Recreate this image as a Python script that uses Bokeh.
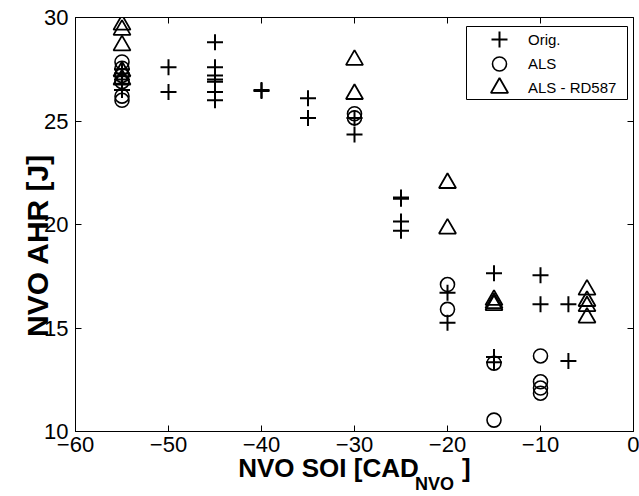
from bokeh.plotting import figure
from bokeh.models import (LinearAxis, Legend, LegendItem, FixedTicker,
                          Range1d, BoxAnnotation)
from bokeh.embed import file_html
from bokeh.resources import INLINE

# ---- data ----
orig_x = [-55, -55, -55, -55, -55,
          -50, -50,
          -45, -45, -45, -45, -45, -45, -45,
          -40, -40,
          -35, -35,
          -30, -30,
          -25, -25, -25, -25,
          -20, -20,
          -15, -15, -15,
          -10, -10,
          -7, -7]
orig_y = [27.5, 27.3, 27.0, 26.8, 26.5,
          27.6, 26.4,
          28.8, 27.6, 27.2, 27.0, 26.9, 26.4, 26.0,
          26.5, 26.45,
          26.1, 25.15,
          25.15, 24.35,
          21.3, 21.25, 20.15, 19.7,
          16.7, 15.25,
          17.65, 13.6, 13.35,
          17.55, 16.15,
          16.15, 13.4]

als_x = [-55, -55, -55, -55, -55, -55,
         -30, -30,
         -20, -20,
         -15, -15,
         -10, -10, -10, -10]
als_y = [27.85, 27.55, 27.2, 26.9, 26.2, 26.0,
         25.35, 25.15,
         17.1, 15.9,
         13.3, 10.55,
         13.65, 12.4, 12.1, 11.85]

rd_x = [-55, -55, -55, -55, -55,
        -30, -30,
        -20, -20,
        -15, -15, -15,
        -5, -5, -5, -5]
rd_y = [29.65, 29.4, 28.65, 27.4, 27.0,
        27.95, 26.3,
        22.0, 19.8,
        16.35, 16.2, 16.1,
        16.85, 16.3, 16.05, 15.5]

series_labels = ["Orig.", "ALS", "ALS - RD587"]
x_ticks = [-60, -50, -40, -30, -20, -10, 0]
y_ticks = [10, 15, 20, 25, 30]
x_title = "NVO SOI [CAD"
x_title_sub = "NVO"
x_title_end = "]"
y_title = "NVO AHR [J]"

FONT = "Liberation Sans"
NB = "\u00a0"

# layout constants (pixels)
W, H = 639, 496
FL, FT, FW, FH = 75, 17, 558, 414
XMIN, XMAX, YMIN, YMAX = -60, 0, 10, 30


def dx(px):
    return XMIN + (px - FL) * (XMAX - XMIN) / FW


def dy(py):
    return YMAX - (py - FT) * (YMAX - YMIN) / FH


p = figure(width=W, height=H,
           x_range=Range1d(XMIN, XMAX), y_range=Range1d(YMIN, YMAX),
           output_backend="svg", toolbar_location=None,
           min_border_left=FL, min_border_right=W - FL - FW,
           min_border_top=FT, min_border_bottom=H - FT - FH)
p.xgrid.visible = False
p.ygrid.visible = False
p.outline_line_color = "black"
p.outline_line_width = 1
p.background_fill_color = "white"
p.border_fill_color = "white"

for ax in (p.xaxis[0], p.yaxis[0]):
    ax.major_tick_in = 6
    ax.major_tick_out = 0
    ax.minor_tick_in = 0
    ax.minor_tick_out = 0
    ax.axis_line_color = "black"
    ax.major_tick_line_color = "black"
    ax.major_label_text_font = FONT
    ax.major_label_text_font_size = "22px"
    ax.major_label_text_color = "black"
    ax.axis_label_text_font = FONT
    ax.axis_label_text_font_style = "bold"
    ax.axis_label_text_color = "black"
p.xaxis.ticker = FixedTicker(ticks=x_ticks)
p.yaxis.ticker = FixedTicker(ticks=y_ticks)
p.xaxis.major_label_standoff = 5
p.yaxis.major_label_standoff = 7

p.xaxis.axis_label = x_title + NB * 6 + x_title_end
p.xaxis.axis_label_text_font_size = "26px"
p.xaxis.axis_label_standoff = -2

p.yaxis.axis_label = y_title + NB * 5
p.yaxis.axis_label_text_font_size = "30px"
p.yaxis.axis_label_standoff = -13

# subscript of the x title
sub = LinearAxis(ticker=FixedTicker(ticks=[]))
sub.axis_line_color = None
sub.major_tick_in = 0
sub.major_tick_out = 0
sub.minor_tick_in = 0
sub.minor_tick_out = 0
sub.major_label_text_font_size = "0px"
sub.major_label_text_color = None
sub.major_label_standoff = 0
sub.axis_label = NB * 32 + x_title_sub
sub.axis_label_text_font = FONT
sub.axis_label_text_font_style = "bold"
sub.axis_label_text_font_size = "18px"
sub.axis_label_text_color = "black"
sub.axis_label_standoff = -12
p.add_layout(sub, "below")

top = LinearAxis(ticker=FixedTicker(ticks=x_ticks))
right = LinearAxis(ticker=FixedTicker(ticks=y_ticks))
for ax in (top, right):
    ax.major_tick_in = 6
    ax.major_tick_out = 0
    ax.minor_tick_in = 0
    ax.minor_tick_out = 0
    ax.axis_line_color = None
    ax.major_tick_line_color = "black"
    ax.major_label_text_font_size = "0px"
    ax.major_label_text_color = None
    ax.major_label_standoff = 0
p.add_layout(top, "above")
p.add_layout(right, "right")

r_orig = p.scatter(orig_x, orig_y, marker="cross", size=16,
                   line_color="black", line_width=2)
r_als = p.scatter(als_x, als_y, marker="circle", size=14,
                  line_color="black", line_width=1.6, fill_color=None)
r_rd = p.scatter(rd_x, rd_y, marker="triangle", size=17,
                 line_color="black", line_width=1.8, fill_color=None)

# legend frame
p.add_layout(BoxAnnotation(left=dx(466), right=dx(627), top=dy(26),
                           bottom=dy(99), fill_color="white", fill_alpha=1,
                           line_color="black", line_width=1, line_alpha=1))

# legend entries (one legend each, so markers keep their size)
entry_centers = [39, 63, 87]
glyph_h = [40, 35, 43]
GW = 46
for lab, r, cy, gh in zip(series_labels, [r_orig, r_als, r_rd],
                          entry_centers, glyph_h):
    lg = Legend(items=[LegendItem(label=lab, renderers=[r])],
                location=(499 - GW / 2 - FL, FT + FH - (cy + gh / 2)),
                margin=0, padding=0, spacing=0,
                glyph_width=GW, glyph_height=gh, label_height=20,
                label_standoff=6,
                label_text_font=FONT, label_text_font_size="15px",
                label_text_color="black",
                border_line_color=None, background_fill_alpha=0)
    p.add_layout(lg, "center")

open("out.html", "w").write(file_html(p, INLINE))
